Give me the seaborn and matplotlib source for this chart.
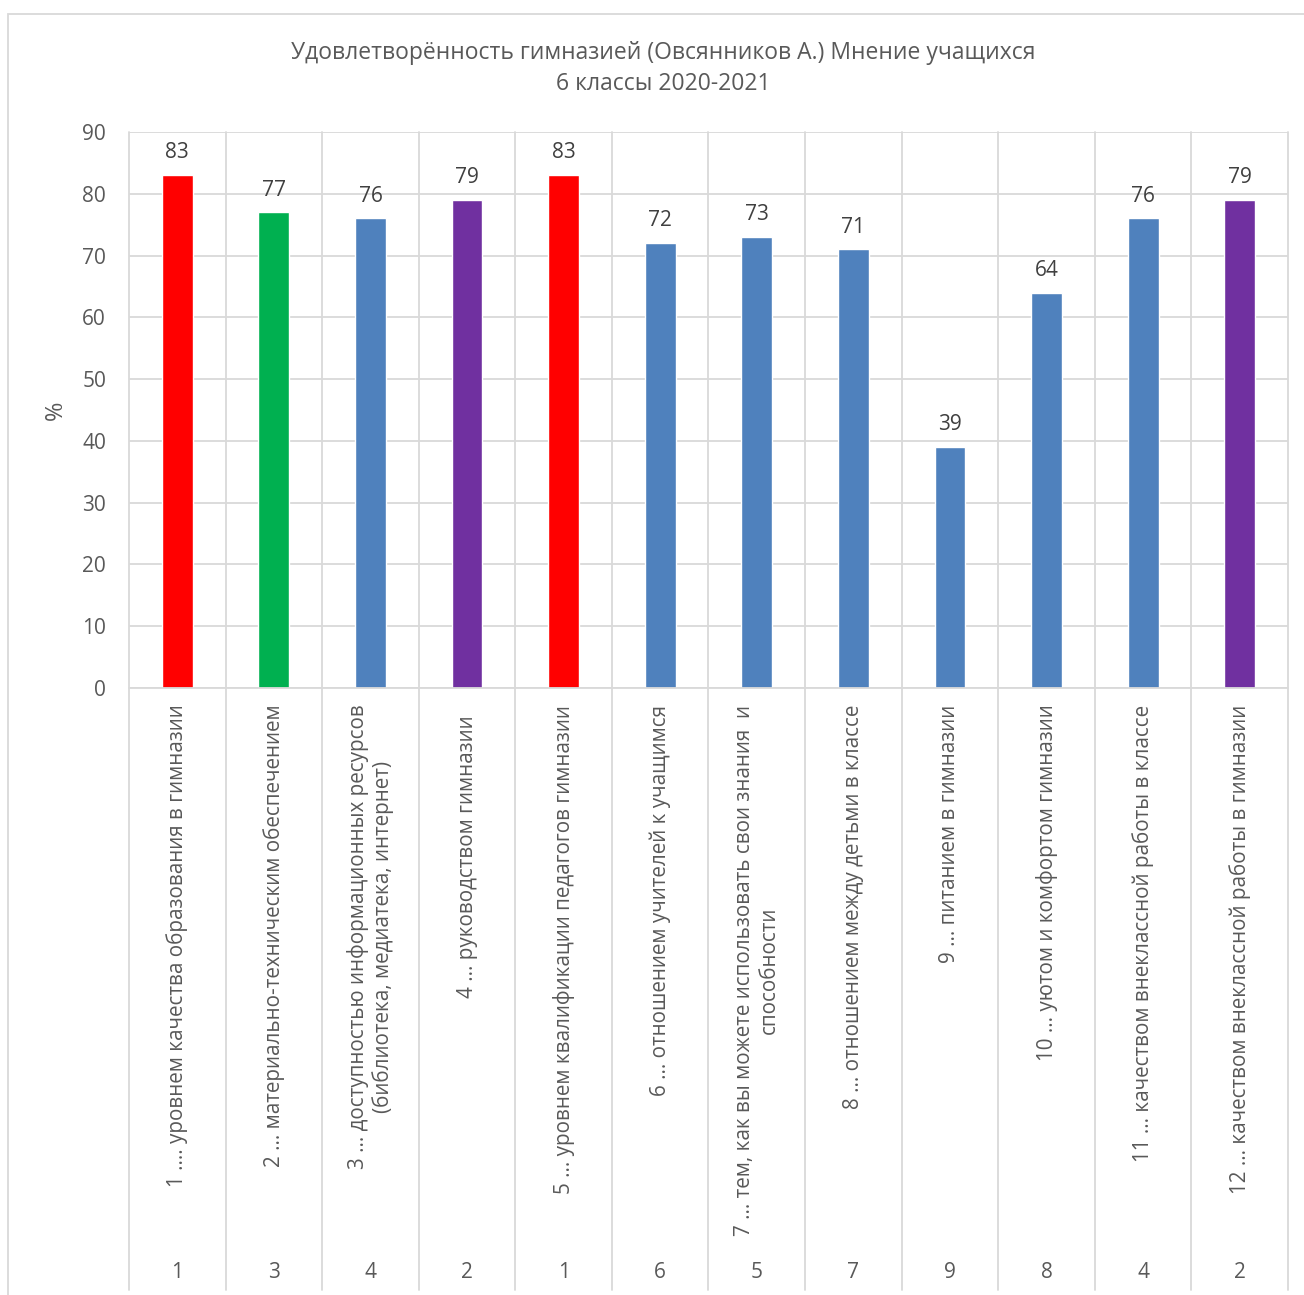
import matplotlib
matplotlib.use("Agg")
import matplotlib.pyplot as plt
import matplotlib.transforms as mtransforms
from matplotlib.patches import Rectangle
import seaborn as sns
import pandas as pd

# ---- data ----
categories = [
    "1 .... уровнем качества образования в гимназии",
    "2 ... материально-техническим обеспечением",
    "3 ... доступностью информационных ресурсов\n(библиотека, медиатека, интернет)",
    "4 ... руководством гимназии  ",
    "5 ... уровнем квалификации педагогов гимназии",
    "6 ... отношением учителей к учащимся",
    "7 ... тем, как вы можете использовать свои знания  и\nспособности",
    "8 ... отношением между детьми в классе",
    "9 ... питанием в гимназии",
    "10 ... уютом и комфортом гимназии",
    "11 ... качеством внеклассной работы в классе",
    "12 ... качеством внеклассной работы в гимназии",
]
values = [83, 77, 76, 79, 83, 72, 73, 71, 39, 64, 76, 79]
ranks = [1, 3, 4, 2, 1, 6, 5, 7, 9, 8, 4, 2]
bar_colors = ["#FF0000", "#00B050", "#4F81BD", "#7030A0", "#FF0000", "#4F81BD",
              "#4F81BD", "#4F81BD", "#4F81BD", "#4F81BD", "#4F81BD", "#7030A0"]
title = "Удовлетворённость гимназией (Овсянников А.) Мнение учащихся\n6 классы 2020-2021"
y_label = "%"

sns.set_theme(style="white")
plt.rcParams["font.family"] = ["Open Sans", "DejaVu Sans"]

TXT = "#595959"
GRID = "#D9D9D9"

W, H = 1304, 1295
fig = plt.figure(figsize=(W / 100, H / 100), dpi=100)
ax = fig.add_axes([129 / W, 1 - 688 / H, (1288 - 129) / W, (688 - 132) / H])

df = pd.DataFrame({"cat": categories, "val": values})
sns.barplot(data=df, x="cat", y="val", hue="cat", palette=bar_colors,
            legend=False, width=0.32, ax=ax, saturation=1)

ax.set_ylim(0, 90)
ax.set_xlim(-0.5, len(categories) - 0.5)
ax.set_yticks(range(0, 91, 10))
ax.tick_params(axis="y", labelsize=15, colors=TXT, length=0, pad=16.5)
ax.grid(axis="y", color=GRID, linewidth=1.3)
ax.set_axisbelow(True)
for s in ax.spines.values():
    s.set_visible(False)

ax.set_ylabel(y_label, fontsize=17, color=TXT, labelpad=10)
ax.set_xlabel("")

# category labels
ax.set_xticks(range(len(categories)))
ax.set_xticklabels(categories, rotation=90, fontsize=14.9, color=TXT,
                   ha="center", va="top", multialignment="center")
ax.tick_params(axis="x", length=0, pad=12)

# data labels
for cont in ax.containers:
    ax.bar_label(cont, fontsize=15, color="#404040", padding=8.5)

# vertical separators, extending below the axis
trans = mtransforms.blended_transform_factory(ax.transData, ax.transAxes)
bottom = -(1290 - 688) / (688 - 132)
for i in range(len(categories) + 1):
    ax.plot([i - 0.5, i - 0.5], [bottom, 1.0], color=GRID, linewidth=1.3,
            transform=trans, clip_on=False, zorder=0)
ax.plot([-0.5, len(categories) - 0.5], [0, 0], color=GRID, linewidth=1.3,
        transform=trans, clip_on=False, zorder=1)

# rank row
rank_y = -(1273 - 688) / (688 - 132)
for i, r in enumerate(ranks):
    ax.text(i, rank_y, str(r), transform=trans, ha="center", va="center",
            fontsize=15, color=TXT)

# title
fig.text(663 / W, 1 - 68.5 / H, title, ha="center", va="center",
         fontsize=16.5, color=TXT, linespacing=1.42)

# chart area border
fig.patches.append(Rectangle((8 / W, -0.01), 1.02, 1 - 14 / H + 0.01,
                             transform=fig.transFigure, fill=False,
                             edgecolor=GRID, linewidth=1.3))

fig.savefig("out.png", dpi=100, facecolor="white")
